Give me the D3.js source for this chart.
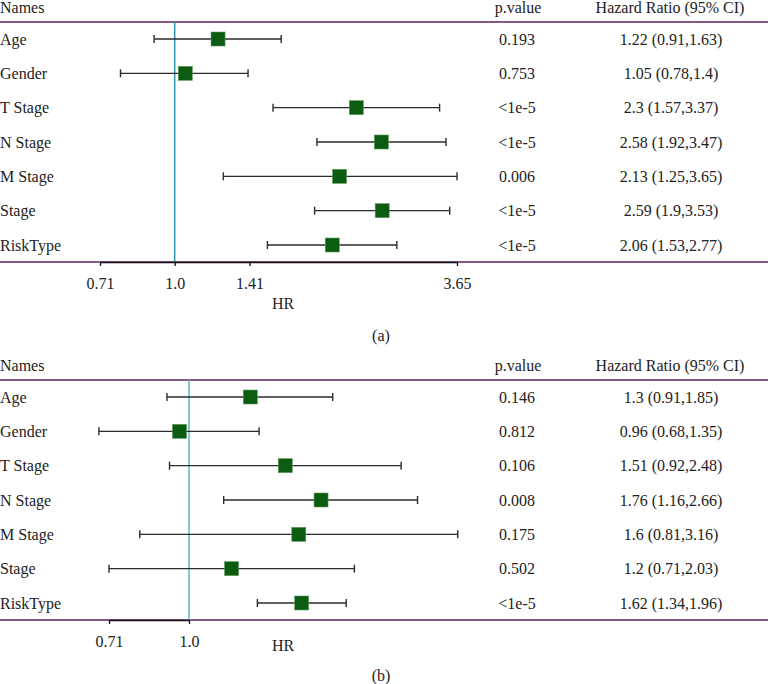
<!DOCTYPE html>
<html lang="en">
<head>
    <meta charset="UTF-8">
    <title>Forest plots</title>
    <style>
        body {
            margin: 0;
            background: #fff;
        }
        svg text {
            font-family: "Liberation Serif", "DejaVu Serif", serif;
            font-size: 16px;
            fill: #222;
        }
    </style>
</head>
<body>
<svg id="chart" width="768" height="684"></svg>

<script src="https://d3js.org/d3.v7.min.js"></script>
<script>
    // Variables, shared by both panels
    const names = ["Age", "Gender", "T Stage", "N Stage", "M Stage", "Stage", "RiskType"];

    // Panel (a)
    const hrA = [1.22, 1.05, 2.3, 2.58, 2.13, 2.59, 2.06];
    const lowA = [0.91, 0.78, 1.57, 1.92, 1.25, 1.9, 1.53];
    const highA = [1.63, 1.4, 3.37, 3.47, 3.65, 3.53, 2.77];
    const pA = ["0.193", "0.753", "<1e-5", "<1e-5", "0.006", "<1e-5", "<1e-5"];
    const ticksA = [0.71, 1.0, 1.41, 3.65];
    const tickLabelsA = ["0.71", "1.0", "1.41", "3.65"];

    // Panel (b)
    const hrB = [1.3, 0.96, 1.51, 1.76, 1.6, 1.2, 1.62];
    const lowB = [0.91, 0.68, 0.92, 1.16, 0.81, 0.71, 1.34];
    const highB = [1.85, 1.35, 2.48, 2.66, 3.16, 2.03, 1.96];
    const pB = ["0.146", "0.812", "0.106", "0.008", "0.175", "0.502", "<1e-5"];
    const ticksB = [0.71, 1.0];
    const tickLabelsB = ["0.71", "1.0"];

    const width = 768;
    const purple = "#63205f";
    const green = "#0b5c10";

    const svg = d3.select("#chart");

    function drawPanel(cfg) {
        const g = svg.append("g").attr("transform", `translate(0,${cfg.top})`);

        // x is log scale, anchored on the first and last tick
        const x = d3.scaleLog()
            .domain([cfg.ticks[0], cfg.ticks[cfg.ticks.length - 1]])
            .range(cfg.xRange);

        const y = d3.scalePoint()
            .domain(names)
            .range([17, 223]);

        const lineTop = 0, lineBottom = 240;

        // header
        g.append("text").attr("x", 0).attr("y", -15)
            .attr("dominant-baseline", "central").text("Names");
        g.append("text").attr("x", 518).attr("y", -15)
            .attr("text-anchor", "middle").attr("dominant-baseline", "central").text("p.value");
        g.append("text").attr("x", 670).attr("y", -15)
            .attr("text-anchor", "middle").attr("dominant-baseline", "central").text("Hazard Ratio (95% CI)");

        // purple rules
        [lineTop, lineBottom].forEach(yy => {
            g.append("line")
                .attr("x1", 0).attr("x2", width)
                .attr("y1", yy).attr("y2", yy)
                .attr("stroke", purple).attr("stroke-width", 1.3);
        });

        // reference line at HR = 1
        g.append("line")
            .attr("x1", x(1)).attr("x2", x(1))
            .attr("y1", lineTop).attr("y2", lineBottom)
            .attr("stroke", cfg.refColor).attr("stroke-width", 1.5);

        const rows = names.map((n, i) => ({
            name: n, hr: cfg.hr[i], low: cfg.low[i], high: cfg.high[i], p: cfg.p[i]
        }));

        const row = g.selectAll(".row").data(rows).enter().append("g").attr("class", "row");

        row.append("text")
            .attr("x", 0).attr("y", d => y(d.name))
            .attr("dominant-baseline", "central")
            .text(d => d.name);

        row.append("text")
            .attr("x", 517).attr("y", d => y(d.name))
            .attr("text-anchor", "middle").attr("dominant-baseline", "central")
            .text(d => d.p);

        row.append("text")
            .attr("x", 671).attr("y", d => y(d.name))
            .attr("text-anchor", "middle").attr("dominant-baseline", "central")
            .text(d => `${d.hr} (${d.low},${d.high})`);

        // whiskers
        row.append("line")
            .attr("x1", d => x(d.low)).attr("x2", d => x(d.high))
            .attr("y1", d => y(d.name)).attr("y2", d => y(d.name))
            .attr("stroke", "#2b2b2b").attr("stroke-width", 1.4);

        ["low", "high"].forEach(k => {
            row.append("line")
                .attr("x1", d => x(d[k])).attr("x2", d => x(d[k]))
                .attr("y1", d => y(d.name) - 4).attr("y2", d => y(d.name) + 4)
                .attr("stroke", "#2b2b2b").attr("stroke-width", 1.4);
        });

        // point estimate
        row.append("rect")
            .attr("x", d => x(d.hr) - 7).attr("y", d => y(d.name) - 7)
            .attr("width", 14).attr("height", 14)
            .attr("fill", green)
            .attr("stroke", "#5d9a5d").attr("stroke-width", 0.6);

        // axis
        const axis = d3.axisBottom(x)
            .tickValues(cfg.ticks)
            .tickFormat((d, i) => cfg.tickLabels[i])
            .tickSize(4)
            .tickSizeOuter(0)
            .tickPadding(cfg.tickPad);

        const ax = g.append("g")
            .attr("transform", `translate(0,${lineBottom})`)
            .call(axis);
        ax.select(".domain").attr("stroke", "#111").attr("stroke-width", 1.6);
        ax.selectAll(".tick line").attr("stroke", "#111").attr("stroke-width", 1.3);
        ax.selectAll(".tick text")
            .attr("font-family", null).attr("font-size", null)
            .style("font-size", "16px").attr("fill", "#222");

        g.append("text")
            .attr("x", 283).attr("y", cfg.hrLabelY)
            .attr("text-anchor", "middle").attr("dominant-baseline", "central")
            .text("HR");

        g.append("text")
            .attr("x", 381).attr("y", cfg.captionY)
            .attr("text-anchor", "middle").attr("dominant-baseline", "central")
            .text(cfg.caption);
    }

    drawPanel({
        top: 22, hr: hrA, low: lowA, high: highA, p: pA,
        ticks: ticksA, tickLabels: tickLabelsA, xRange: [100, 457],
        refColor: "#2f93ab", tickPad: 12, hrLabelY: 281, captionY: 313, caption: "(a)"
    });

    drawPanel({
        top: 380, hr: hrB, low: lowB, high: highB, p: pB,
        ticks: ticksB, tickLabels: tickLabelsB, xRange: [109, 189],
        refColor: "#5db3c3", tickPad: 12, hrLabelY: 265, captionY: 295, caption: "(b)"
    });
</script>

</body>
</html>
